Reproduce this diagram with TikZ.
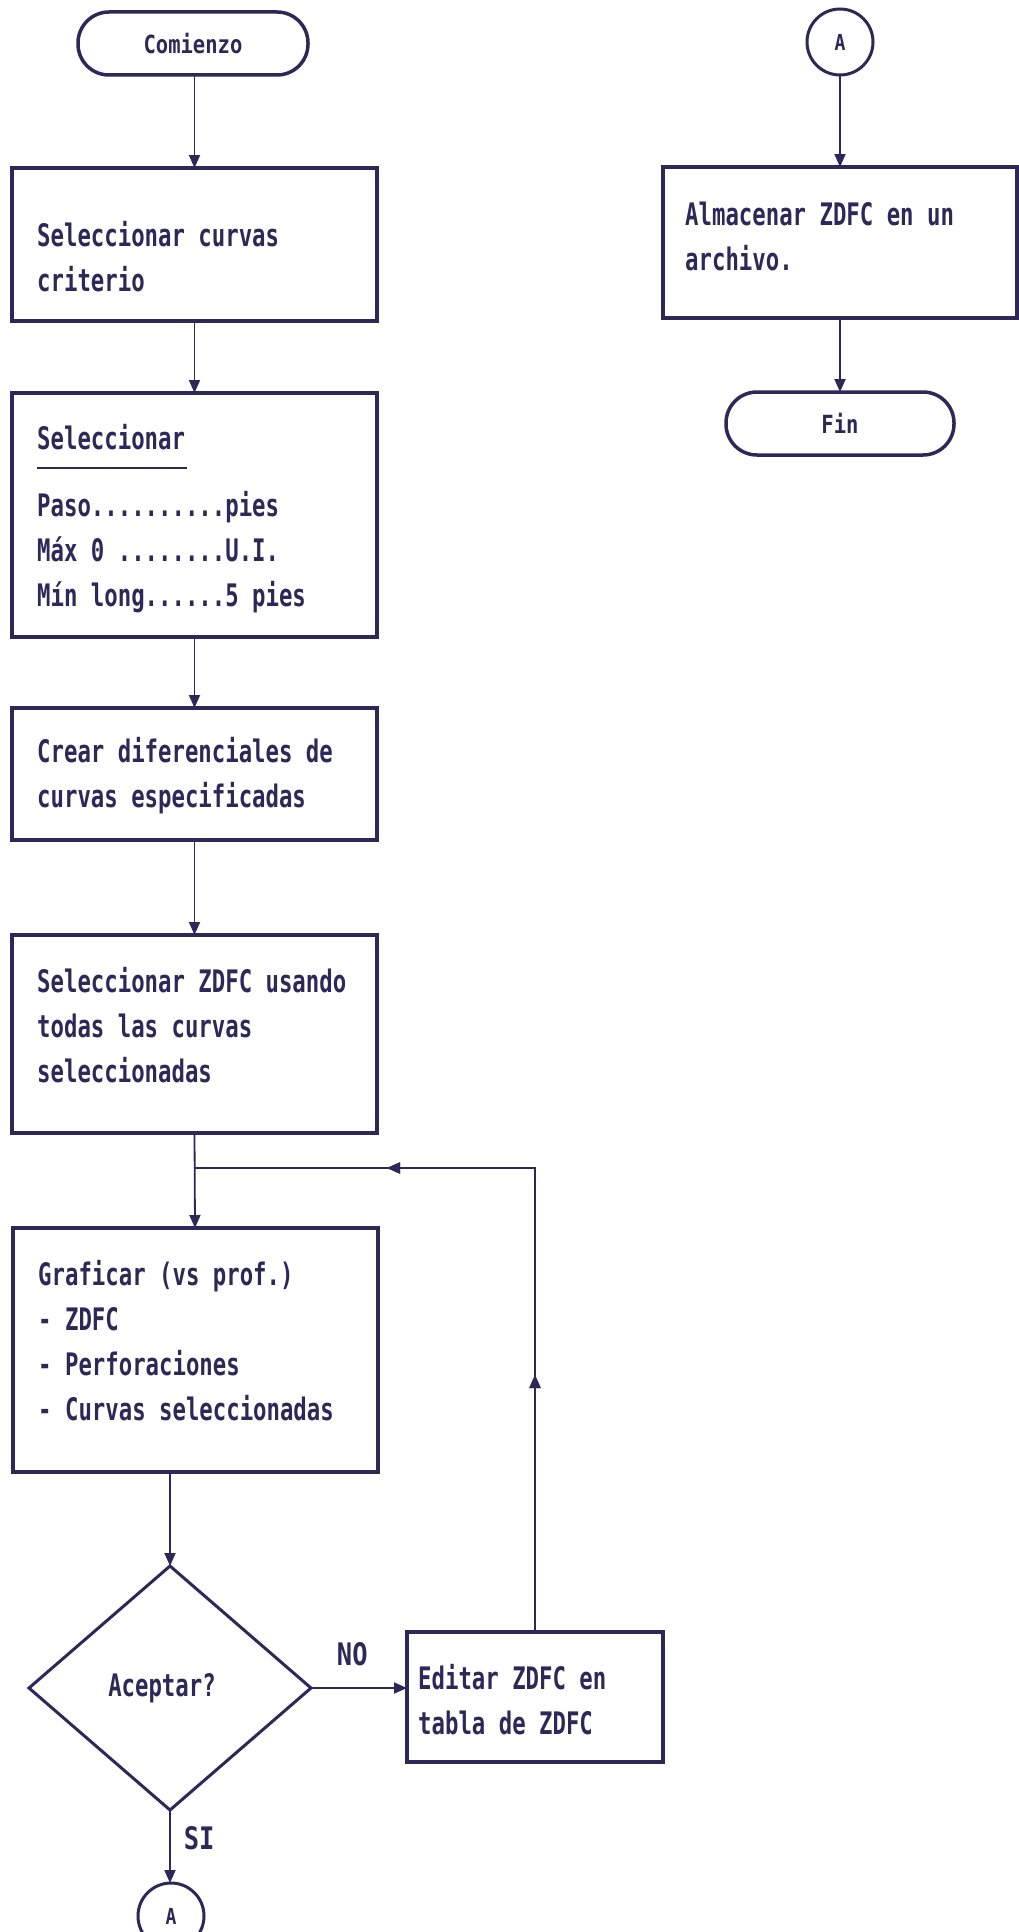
\documentclass[tikz,border=0pt]{standalone}
\usepackage{fontspec}
\usetikzlibrary{shapes.geometric,arrows.meta,decorations.markings}
% condensed monospace faces in the style of an old PC screen font
\newfontfamily\pcfont[FakeStretch=0.72]{DejaVu Sans Mono}
\newfontfamily\pclabel[FakeStretch=0.82]{DejaVu Sans Mono}
\definecolor{ink}{RGB}{45,40,88}

\begin{document}
\begin{tikzpicture}[x=1pt,y=-1pt,
  every node/.style={text=ink},
  boxnode/.style={rectangle, draw=ink, line width=4pt, inner sep=0pt, outer sep=0pt},
  termnode/.style={rectangle, draw=ink, line width=3.5pt, rounded corners=31pt,
    minimum height=63pt, inner sep=0pt, outer sep=0pt,
    font=\pclabel\bfseries\fontsize{25}{30}\selectfont},
  connnode/.style={circle, draw=ink, line width=3pt, minimum size=66pt, inner sep=0pt,
    outer sep=0pt, font=\pclabel\bfseries\fontsize{22}{26}\selectfont},
  decision/.style={diamond, draw=ink, line width=3pt, aspect=1.156,
    minimum width=282pt, minimum height=244pt, inner sep=0pt, outer sep=0pt,
    font=\pcfont\bfseries\fontsize{31}{45}\selectfont},
  txt/.style={anchor=west, align=left, inner sep=0pt,
    font=\pcfont\bfseries\fontsize{31}{45}\selectfont},
  flowlabel/.style={inner sep=0pt, font=\pclabel\bfseries\fontsize{31}{40}\selectfont},
  flow/.style={draw=ink, line width=1.8pt, -{Triangle[length=13pt,width=11pt]}},
  plainline/.style={draw=ink, line width=1.8pt},
  tipmark/.style={decoration={markings, mark=at position #1 with {\arrow{Triangle[length=13pt,width=11pt]}}}, postaction={decorate}}
]
\useasboundingbox[fill=white] (0,0) rectangle (1019,1932);

% ---- left column ----
\node[termnode, minimum width=230pt] (start) at (193,43.5) {Comienzo};

\node[boxnode, minimum width=365pt, minimum height=153pt] (b1) at (194.5,244.5) {};
\node[txt] (t1) at (37,257) {Seleccionar curvas\\criterio};

\node[boxnode, minimum width=365pt, minimum height=244pt] (b2) at (194.5,515) {};
\node[txt] (t2a) at (37,437) {Seleccionar};
\draw[ink, line width=2pt] (37,468) -- (187,468);
\node[txt] (t2b) at (37,552) {Paso..........pies\\Máx 0 ........U.I.\\Mín long......5 pies};

\node[boxnode, minimum width=365pt, minimum height=132pt] (b3) at (194.5,774) {};
\node[txt] (t3) at (37,776) {Crear diferenciales de\\curvas especificadas};

\node[boxnode, minimum width=365pt, minimum height=198pt] (b4) at (194.5,1034) {};
\node[txt] (t4) at (37,1025) {Seleccionar ZDFC usando\\todas las curvas\\seleccionadas};

\node[boxnode, minimum width=365pt, minimum height=244pt] (b5) at (195,1350) {};
\node[txt] (t5) at (38,1341) {Graficar (vs prof.)\\- ZDFC\\- Perforaciones\\- Curvas seleccionadas};

\node[decision] (dia) at (170,1688) {\hspace*{-16pt}Aceptar?};

\node[boxnode, minimum width=256pt, minimum height=130pt] (edit) at (535,1697) {};
\node[txt] (t6) at (418,1700) {Editar ZDFC en\\tabla de ZDFC};

\node[connnode] (abot) at (171,1916) {A};

% ---- right column ----
\node[connnode] (atop) at (840,42) {A};
\node[boxnode, minimum width=354pt, minimum height=151pt] (alm) at (840,242.5) {};
\node[txt] (t7) at (685,236) {Almacenar ZDFC en un\\archivo.};
\node[termnode, minimum width=228pt] (fin) at (840,423.5) {Fin};

% ---- connectors ----
\coordinate (join) at (194.5,1168);
\draw[flow] (start.south -| b1.north) -- (b1.north);
\draw[flow] (b1.south) -- (b2.north);
\draw[flow] (b2.south) -- (b3.north);
\draw[flow] (b3.south) -- (b4.north);
\draw[flow] (b4.south) -- (b5.north);
\draw[flow] (b5.south -| dia.north) -- (dia.north);
\draw[flow] (dia.east) -- (dia.east -| edit.west) node[flowlabel, pos=0.43, above=21pt] {NO};
\draw[flow] (dia.south) -- (dia.south |- abot.north) node[flowlabel, pos=0.38, right=13pt] {SI};
\draw[plainline, tipmark=257pt, tipmark=612pt] (edit.north) -- (edit.north |- join) -- (join);

\draw[flow] (atop.south) -- (alm.north);
\draw[flow] (alm.south) -- (fin.north);
\end{tikzpicture}
\end{document}
